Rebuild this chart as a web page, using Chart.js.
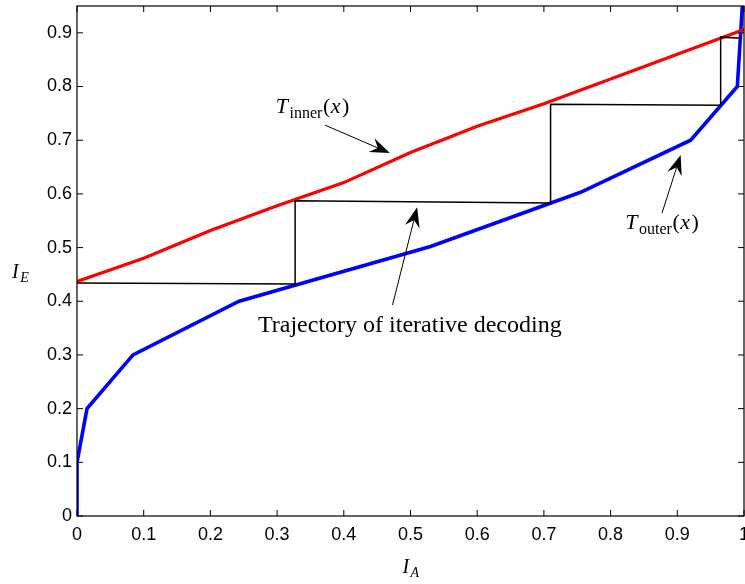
<!DOCTYPE html>
<html>
<head>
<meta charset="utf-8">
<script src="https://cdn.jsdelivr.net/npm/chart.js@4"></script>
<style>
  html, body { margin: 0; padding: 0; background: #fff; }
  #wrap { width: 745px; height: 584px; }
</style>
</head>
<body>
<div id="wrap"><canvas id="exit"></canvas></div>
<script>
// EXIT chart: inner / outer transfer curves and the decoding staircase
const xTicks = [0, 0.1, 0.2, 0.3, 0.4, 0.5, 0.6, 0.7, 0.8, 0.9, 1];
const xTickLabels = ['0', '0.1', '0.2', '0.3', '0.4', '0.5', '0.6', '0.7', '0.8', '0.9', '1'];
const yTicks = [0, 0.1, 0.2, 0.3, 0.4, 0.5, 0.6, 0.7, 0.8, 0.9];
const yTickLabels = ['0', '0.1', '0.2', '0.3', '0.4', '0.5', '0.6', '0.7', '0.8', '0.9'];

const innerX = [0, 0.1, 0.2, 0.3, 0.4, 0.5, 0.6, 0.7, 0.8, 0.9, 1];
const innerY = [0.437, 0.48, 0.532, 0.578, 0.621, 0.677, 0.726, 0.768, 0.814, 0.86, 0.906];

const outerX = [0, 0, 0.015, 0.084, 0.243, 0.53, 0.755, 0.92, 0.99, 1];
const outerY = [0, 0.1, 0.2, 0.3, 0.4, 0.502, 0.603, 0.7, 0.8, 1];

const trajX = [0, 0.327, 0.327, 0.71, 0.71, 0.965, 0.965, 0.997];
const trajY = [0.434, 0.432, 0.587, 0.583, 0.767, 0.765, 0.892, 0.89];

const pts = (xs, ys) => xs.map((x, i) => ({ x: x, y: ys[i] }));

const serif = '"Liberation Serif", "DejaVu Serif", serif';

// draw a small math label: list of [text, style] where style is 'i' italic, 's' subscript, '' roman
function drawMath(ctx, parts, x, y, size) {
  let cx = x;
  parts.forEach(([t, st]) => {
    let sz = size, dy = 0, it = '';
    if (st.includes('s')) { sz = Math.round(size * 0.72); dy = size * 0.22; }
    if (st.includes('i')) it = 'italic ';
    ctx.font = it + sz + 'px ' + serif;
    ctx.fillText(t, cx, y + dy);
    cx += ctx.measureText(t).width + (st.includes('i') ? 1.5 : 0.5);
  });
  return cx - x;
}

function mathWidth(ctx, parts, size) {
  let w = 0;
  parts.forEach(([t, st]) => {
    let sz = st.includes('s') ? Math.round(size * 0.72) : size;
    ctx.font = (st.includes('i') ? 'italic ' : '') + sz + 'px ' + serif;
    w += ctx.measureText(t).width + (st.includes('i') ? 1.5 : 0.5);
  });
  return w;
}

// arrow with a filled stealth head, from (x1,y1) to tip (x2,y2)
function arrow(ctx, x1, y1, x2, y2) {
  const a = Math.atan2(y2 - y1, x2 - x1);
  const L = 20, W = 7.5, back = 7;
  ctx.save();
  ctx.strokeStyle = '#000';
  ctx.lineWidth = 1;
  ctx.beginPath();
  ctx.moveTo(x1, y1);
  ctx.lineTo(x2 - Math.cos(a) * (L - back), y2 - Math.sin(a) * (L - back));
  ctx.stroke();
  ctx.translate(x2, y2);
  ctx.rotate(a);
  ctx.fillStyle = '#000';
  ctx.beginPath();
  ctx.moveTo(0, 0);
  ctx.lineTo(-L, -W);
  ctx.lineTo(-L + back, 0);
  ctx.lineTo(-L, W);
  ctx.closePath();
  ctx.fill();
  ctx.restore();
}

const labelsOnTop = {
  id: 'labelsOnTop',
  afterDraw(chart) {
    const ctx = chart.ctx;
    const area = chart.chartArea;
    const xs = chart.scales.x, ys = chart.scales.y;
    const px = v => xs.getPixelForValue(v), py = v => ys.getPixelForValue(v);

    ctx.save();
    // frame
    ctx.strokeStyle = '#000';
    ctx.lineWidth = 1.2;
    ctx.strokeRect(area.left, area.top, area.right - area.left, area.bottom - area.top);

    // inward ticks on all four sides
    const tl = 6;
    ctx.lineWidth = 1;
    ctx.beginPath();
    xTicks.forEach(v => {
      const x = px(v);
      ctx.moveTo(x, area.bottom); ctx.lineTo(x, area.bottom - tl);
      ctx.moveTo(x, area.top); ctx.lineTo(x, area.top + tl);
    });
    yTicks.forEach(v => {
      const y = py(v);
      ctx.moveTo(area.left, y); ctx.lineTo(area.left + tl, y);
      ctx.moveTo(area.right, y); ctx.lineTo(area.right - tl, y);
    });
    ctx.stroke();

    ctx.fillStyle = '#000';
    ctx.textBaseline = 'alphabetic';
    ctx.textAlign = 'left';
    const fs = 22;

    // T_inner(x)
    drawMath(ctx, [['T', 'i'], ['inner', 's'], ['(', ''], ['x', 'i'], [')', '']], px(0.298), py(0.751), fs);
    arrow(ctx, px(0.372), py(0.728), px(0.469), py(0.676));

    // T_outer(x)
    drawMath(ctx, [['T', 'i'], ['outer', 's'], ['(', ''], ['x', 'i'], [')', '']], px(0.822), py(0.535), fs);
    arrow(ctx, px(0.877), py(0.564), px(0.905), py(0.6725));

    // trajectory caption
    ctx.font = '24px ' + serif;
    ctx.textAlign = 'center';
    ctx.fillText('Trajectory of iterative decoding', px(0.499), py(0.343));
    arrow(ctx, px(0.473), py(0.393), px(0.51), py(0.575));

    // axis titles
    ctx.textAlign = 'left';
    drawMath(ctx, [['I', 'i'], ['E', 'is']], area.left - 65, area.top + 272, 20);
    const wA = mathWidth(ctx, [['I', 'i'], ['A', 'is']], 20);
    drawMath(ctx, [['I', 'i'], ['A', 'is']], (area.left + area.right) / 2 - wA / 2 + 1, area.bottom + 57, 20);
    ctx.restore();
  }
};

const tickFont = { family: '"Liberation Sans", Arial, sans-serif', size: 18 };

new Chart(document.getElementById('exit'), {
  type: 'scatter',
  data: {
    datasets: [
      { data: pts(trajX, trajY), borderColor: '#000', borderWidth: 1.5 },
      { data: pts(innerX, innerY), borderColor: '#ff0000', borderWidth: 3.2 },
      { data: pts(outerX, outerY), borderColor: '#0000ff', borderWidth: 3.6 }
    ].map(d => Object.assign(d, { showLine: true, pointRadius: 0, fill: false, tension: 0 }))
  },
  options: {
    responsive: true,
    maintainAspectRatio: false,
    animation: false,
    layout: { padding: { top: 6, right: 1, left: 0, bottom: 0 } },
    plugins: { legend: { display: false }, tooltip: { enabled: false } },
    scales: {
      x: {
        type: 'linear', min: 0, max: 1,
        grid: { display: false, drawTicks: false },
        border: { display: false },
        afterBuildTicks: s => { s.ticks = xTicks.map(v => ({ value: v })); },
        afterFit: s => { s.height = 68; s.paddingLeft = 0; s.paddingRight = 0; },
        ticks: {
          color: '#000', font: tickFont, padding: 8, maxRotation: 0, autoSkip: false,
          callback: (v, i) => xTickLabels[i]
        }
      },
      y: {
        type: 'linear', min: 0, max: 0.95,
        grid: { display: false, drawTicks: false },
        border: { display: false },
        afterBuildTicks: s => { s.ticks = yTicks.map(v => ({ value: v })); },
        afterFit: s => { s.width = 77; s.paddingTop = 0; s.paddingBottom = 0; },
        ticks: {
          color: '#000', font: tickFont, padding: 5, autoSkip: false,
          callback: (v, i) => yTickLabels[i]
        }
      }
    }
  },
  plugins: [labelsOnTop]
});
</script>
</body>
</html>
